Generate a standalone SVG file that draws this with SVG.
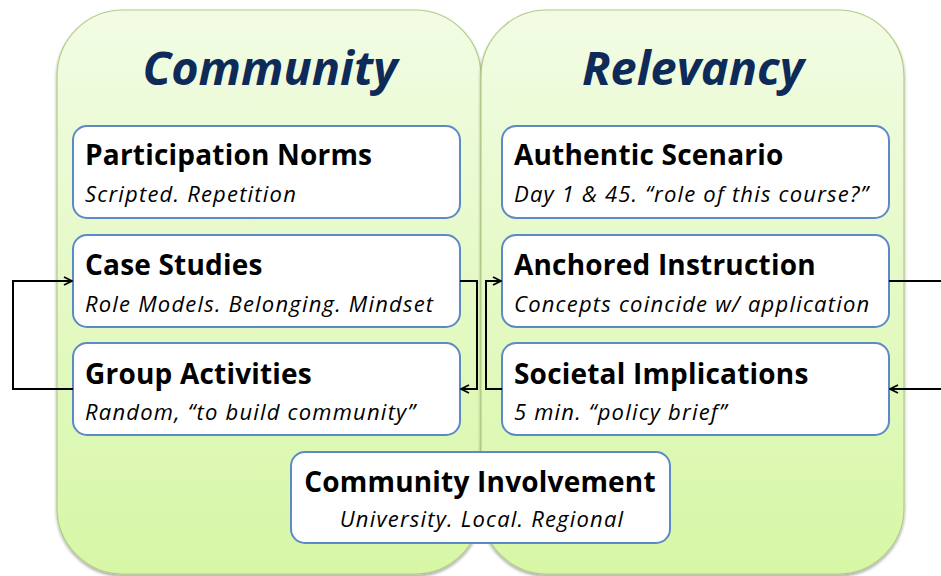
<svg xmlns="http://www.w3.org/2000/svg" width="941" height="576" viewBox="0 0 941 576">
<defs>
<linearGradient id="pg" x1="0" y1="0" x2="0" y2="1">
<stop offset="0" stop-color="#f2fce4"/>
<stop offset="1" stop-color="#d7f7a6"/>
</linearGradient>
<filter id="sh" x="-5%" y="-5%" width="110%" height="110%">
<feDropShadow dx="0" dy="2" stdDeviation="1.5" flood-color="#000" flood-opacity="0.35"/>
</filter>
<marker id="ah" viewBox="0 0 10 10" refX="9" refY="5" markerWidth="10" markerHeight="10" markerUnits="userSpaceOnUse" orient="auto">
<path d="M1,1 L9,5 L1,9" fill="none" stroke="#000" stroke-width="1.8"/>
</marker>
<style>
.panel{fill:url(#pg);stroke:#b2cc86;stroke-width:1.2;filter:url(#sh)}
.head{font-family:"Open Sans","Liberation Sans",sans-serif;font-weight:bold;font-style:italic;font-size:46px;fill:#0e2a58;text-anchor:middle}
.box{fill:#fff;stroke:#5b8ac6;stroke-width:2}
.t{font-family:"Open Sans","Liberation Sans",sans-serif;font-weight:bold;font-size:28px;letter-spacing:0.2px;fill:#000}
.s{font-family:"Open Sans","Liberation Sans",sans-serif;font-style:italic;font-size:22px;letter-spacing:1.2px;fill:#000}
.c{fill:none;stroke:#000;stroke-width:2}
</style>
</defs>
<g id="panel-community">
<rect class="panel" x="57" y="10" width="424" height="564" rx="66"/>
<text class="head" x="270" y="85" textLength="255" lengthAdjust="spacingAndGlyphs">Community</text>
</g>
<g id="panel-relevancy">
<rect class="panel" x="481" y="10" width="423" height="564" rx="66"/>
<text class="head" x="693" y="85" textLength="222" lengthAdjust="spacingAndGlyphs">Relevancy</text>
</g>
<g id="participation-norms">
<rect class="box" x="73" y="126" width="387" height="92" rx="14"/>
<text class="t" x="85" y="165">Participation Norms</text>
<text class="s" x="85" y="202">Scripted. Repetition</text>
</g>
<g id="case-studies">
<rect class="box" x="73" y="235" width="387" height="92" rx="14"/>
<text class="t" x="85" y="275">Case Studies</text>
<text class="s" x="85" y="312">Role Models. Belonging. Mindset</text>
</g>
<g id="group-activities">
<rect class="box" x="73" y="343" width="387" height="92" rx="14"/>
<text class="t" x="85" y="384">Group Activities</text>
<text class="s" x="85" y="420">Random, “to build community”</text>
</g>
<g id="authentic-scenario">
<rect class="box" x="502" y="126" width="387" height="92" rx="14"/>
<text class="t" x="514" y="165">Authentic Scenario</text>
<text class="s" x="514" y="202">Day 1 &amp; 45. “role of this course?”</text>
</g>
<g id="anchored-instruction">
<rect class="box" x="502" y="235" width="387" height="92" rx="14"/>
<text class="t" x="514" y="275">Anchored Instruction</text>
<text class="s" x="514" y="312">Concepts coincide w/ application</text>
</g>
<g id="societal-implications">
<rect class="box" x="502" y="343" width="387" height="92" rx="14"/>
<text class="t" x="514" y="384">Societal Implications</text>
<text class="s" x="514" y="420">5 min. “policy brief”</text>
</g>
<g id="community-involvement">
<rect class="box" x="291" y="452" width="379" height="91" rx="14"/>
<text class="t" x="480" y="492" text-anchor="middle">Community Involvement</text>
<text class="s" x="482" y="527" text-anchor="middle">University. Local. Regional</text>
</g>
<g id="connectors">
<path class="c" d="M73,389 L13,389 L13,281 L72,281" marker-end="url(#ah)"/>
<path class="c" d="M460,281 L477,281 L477,389 L461,389" marker-end="url(#ah)"/>
<path class="c" d="M502,389 L486,389 L486,281 L501,281" marker-end="url(#ah)"/>
<path class="c" d="M889,281 L941,281"/>
<path class="c" d="M941,389 L890,389" marker-end="url(#ah)"/>
</g>
</svg>
